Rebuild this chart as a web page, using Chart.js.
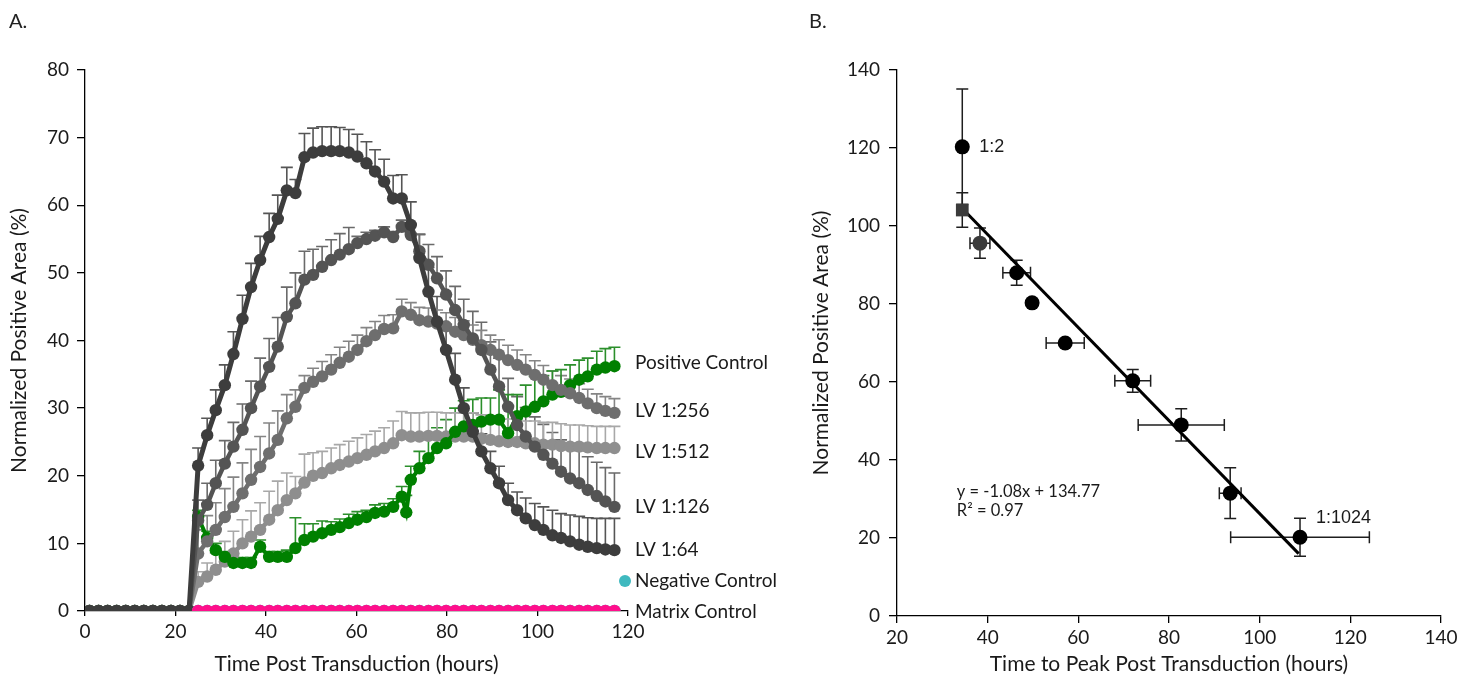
<!DOCTYPE html>
<html><head><meta charset="utf-8">
<script src="https://cdn.jsdelivr.net/npm/chart.js@4.4.1/dist/chart.umd.min.js"></script>
<style>
html,body{margin:0;padding:0;background:#fff;}
#wrap{position:relative;width:1475px;height:680px;overflow:hidden;}
canvas{position:absolute;top:0;}
#cA{left:0}
#cB{left:800px}
.panel{position:absolute;top:8px;font:20px Lato, "Open Sans", sans-serif;color:#222;line-height:24px;}
</style></head>
<body><div id="wrap">
<canvas id="cA" width="800" height="680"></canvas>
<canvas id="cB" width="675" height="680"></canvas>
<div class="panel" style="left:9px">A.</div>
<div class="panel" style="left:809px">B.</div>
</div>
<script>
// ---------- Panel A data ----------
const preTimes = [1,3,5,7,9,11,13,15,17,19,21,23];
const preZeros = [0,0,0,0,0,0,0,0,0,0,0,0];
const postTimes = [25.0,27.0,28.9,30.9,32.8,34.8,36.7,38.7,40.7,42.6,44.6,46.5,48.5,50.4,52.4,54.4,56.3,58.3,60.2,62.2,64.1,66.1,68.1,70.0,72.0,73.9,75.9,77.8,79.8,81.8,83.7,85.7,87.6,89.6,91.5,93.5,95.5,97.4,99.4,101.3,103.3,105.2,107.2,109.2,111.1,113.1,115.0,117.0];
const greenTimes = [25.0,27.0,28.9,30.9,32.8,34.8,36.7,38.7,40.7,42.6,44.6,46.5,48.5,50.4,52.4,54.4,56.3,58.3,60.2,62.2,64.1,66.1,68.1,70.0,71.0,72.0,73.9,75.9,77.8,79.8,81.8,83.7,85.7,87.6,89.6,91.5,93.5,95.5,97.4,99.4,101.3,103.3,105.2,107.2,109.2,111.1,113.1,115.0,117.0];

const lv64 = [21.5,26.0,29.7,33.4,38.0,43.2,47.9,51.9,55.3,58.0,62.2,61.8,67.1,67.8,68.0,68.0,68.0,67.8,67.2,66.2,65.0,63.5,61.0,61.0,57.1,52.2,47.2,42.8,38.6,34.2,30.0,26.5,23.6,21.1,18.9,16.4,14.9,13.7,12.7,12.0,11.2,10.8,10.3,9.8,9.5,9.3,9.1,9.0];
const lv64Err = [2.6,2.5,3.0,3.0,3.3,3.5,3.5,3.5,3.5,3.5,3.4,2.0,3.5,3.6,3.6,3.6,3.5,3.4,3.3,3.2,3.2,3.3,3.4,3.5,3.4,3.5,3.6,3.7,3.8,3.9,3.0,2.8,2.6,2.5,2.5,2.5,2.7,3.0,3.2,3.4,3.7,3.6,3.9,4.2,4.3,4.4,4.6,4.7];

const lv126 = [13.4,15.7,18.9,21.8,24.3,26.8,30.0,33.2,36.1,39.1,43.5,45.5,49.0,49.7,50.9,51.9,52.7,53.5,54.4,55.0,55.5,56.0,55.3,56.8,55.6,53.2,51.2,49.2,46.8,44.5,42.3,40.3,38.6,35.7,33.2,30.2,27.5,25.8,24.3,23.1,21.8,20.6,19.6,18.9,17.9,17.0,16.2,15.4];
const lv126Err = [3.0,3.2,3.4,3.4,3.6,3.8,4.0,4.2,4.2,4.3,4.4,4.5,4.2,3.8,3.0,3.0,3.1,3.2,1.0,1.0,0.8,0.8,0.8,1.0,1.5,2.5,3.0,3.2,3.5,3.5,3.8,4.0,4.1,4.1,4.2,4.2,4.2,4.3,4.4,4.5,4.6,4.7,4.8,4.8,4.9,5.0,5.0,5.0];

const lv256 = [8.5,10.3,12.0,13.9,15.4,17.4,19.4,21.3,23.3,25.3,28.5,30.2,33.0,33.9,34.7,35.7,36.7,37.6,38.6,39.9,40.8,41.7,41.8,44.3,43.8,43.0,42.8,42.5,42.1,41.3,40.8,40.1,39.3,38.6,37.9,37.1,36.4,35.7,34.9,34.2,33.4,32.7,32.2,31.5,30.7,30.0,29.6,29.3];
const lv256Err = [3.5,3.8,4.0,4.2,4.4,4.5,4.5,4.5,4.5,4.3,3.5,2.5,1.8,2.0,2.2,2.2,2.3,2.3,2.2,2.0,2.0,2.0,2.0,1.8,1.8,1.9,2.0,2.0,2.0,2.1,2.1,2.2,2.2,2.2,2.2,2.2,2.2,2.2,2.1,2.1,2.1,2.1,2.1,2.1,2.1,2.1,2.1,2.1];

const lv512 = [4.3,5.1,6.1,7.3,8.5,10.0,11.0,12.0,13.5,14.9,16.4,17.4,19.0,20.0,20.4,21.1,21.6,22.1,22.6,23.1,23.6,24.1,24.8,26.0,25.8,25.8,25.9,25.9,25.8,25.8,25.8,25.8,25.5,25.3,25.1,25.0,25.0,24.8,24.8,24.6,24.6,24.4,24.3,24.3,24.2,24.1,24.1,24.1];
const lv512Err = [1.5,2.0,2.5,3.0,3.3,3.5,3.8,4.0,4.2,4.3,4.0,2.5,4.2,3.4,3.2,3.0,3.0,3.0,3.0,3.0,3.0,3.0,3.3,3.5,3.5,3.5,3.5,3.5,3.5,3.5,3.5,3.5,3.5,3.4,3.4,3.4,3.4,3.3,3.3,3.3,3.3,3.3,3.2,3.2,3.2,3.2,3.2,3.2];

const posCtrl = [13.9,10.8,9.0,8.0,7.1,7.1,7.1,9.5,8.0,8.0,8.0,9.3,10.5,11.0,11.5,12.0,12.4,13.0,13.5,13.9,14.5,14.7,15.4,16.9,14.6,19.4,21.1,22.6,24.1,24.8,26.5,27.3,27.5,28.0,28.3,28.3,26.3,28.8,29.5,30.2,31.0,32.0,32.4,33.4,34.2,34.7,35.7,36.0,36.2];
const posCtrlErr = [1.0,1.0,1.0,0.8,0.8,0.8,0.8,1.0,0.8,0.8,1.0,4.5,2.4,1.9,1.8,1.2,1.2,1.3,1.2,1.0,1.2,1.2,1.2,1.5,2.5,2.0,2.5,2.8,3.0,3.5,3.5,3.8,3.8,3.5,3.2,4.4,5.7,3.2,3.9,4.5,3.8,3.5,3.3,3.0,2.9,2.7,2.7,2.8,2.8];

const negCtrl = [0,0,0,0,0,0,0,0,0,0,0,0,0,0,0,0,0,0,0,0,0,0,0,0,0,0,0,0,0,0,0,0,0,0,0,0,0,0,0,0,0,0,0,0,0,0,0,0];
const matrixCtrl = [0,0,0,0,0,0,0,0,0,0,0,0,0,0,0,0,0,0,0,0,0,0,0,0,0,0,0,0,0,0,0,0,0,0,0,0,0,0,0,0,0,0,0,0,0,0,0,0];

const xTicksA = [0,20,40,60,80,100,120];
const yTicksA = [0,10,20,30,40,50,60,70,80];

// ---------- Panel B data ----------
const peakTime    = [34.4, 34.4, 38.3, 46.4, 49.8, 57.1, 72.0, 82.7, 93.5, 108.9];
const peakArea    = [120.3, 104.1, 95.6, 88.0, 80.3, 70.0, 60.3, 49.0, 31.5, 20.2];
const peakTimeErr = [0, 0, 2.2, 3.05, 0, 4.2, 3.95, 9.5, 2.4, 15.3];
const peakAreaErr = [14.8, 4.4, 3.9, 3.2, 0, 0, 2.9, 4.15, 6.5, 4.85];
const pointNames  = ['1:2','','','','','','','','','1:1024'];
const trendX = [35.0, 108.6];
const trendY = [103.8, 16.0];
const equationText = ['y = -1.08x + 134.77', 'R\u00b2 = 0.97'];

// ---------- helpers ----------
const FONT = 'Lato, "Open Sans", sans-serif';
const TXT = '#1a1a1a';
function pts(times, vals){ return times.map((t,i)=>({x:t, y:vals[i]})); }

const errorBarsA = {
  id: 'errorBarsA',
  beforeDatasetsDraw(chart){
    const ctx = chart.ctx, xs = chart.scales.x, ys = chart.scales.y;
    chart.data.datasets.forEach(ds => {
      if (!ds.errUp) return;
      ctx.save();
      ctx.strokeStyle = ds.errColor; ctx.lineWidth = 1.6;
      ds.data.forEach((p,i) => {
        const e = ds.errUp[i]; if (!e) return;
        const px = xs.getPixelForValue(p.x), py = ys.getPixelForValue(p.y), pt = ys.getPixelForValue(p.y + e);
        ctx.beginPath();
        ctx.moveTo(px, py); ctx.lineTo(px, pt);
        ctx.moveTo(px - 6, pt); ctx.lineTo(px + 6, pt);
        ctx.stroke();
      });
      ctx.restore();
    });
  }
};

const endLabelsA = {
  id: 'endLabelsA',
  afterDatasetsDraw(chart){
    const ctx = chart.ctx, xs = chart.scales.x, ys = chart.scales.y;
    ctx.save();
    ctx.font = '19px ' + FONT; ctx.fillStyle = TXT; ctx.textBaseline = 'middle'; ctx.textAlign = 'left';
    const lx = xs.right + 7;
    chart.data.datasets.forEach(ds => {
      if (!ds.endLabel) return;
      const last = ds.data[ds.data.length - 1];
      let y = ys.getPixelForValue(last.y) + (ds.labelShift || 0);
      if (ds.labelDot) {
        ctx.beginPath(); ctx.fillStyle = ds.borderColor;
        ctx.arc(xs.right - 3, y, 6, 0, Math.PI * 2); ctx.fill();
        ctx.fillStyle = TXT;
      }
      ctx.fillText(ds.endLabel, lx, y);
    });
    ctx.restore();
  }
};

function lineDs(label, times, vals, err, color, errColor, width, order, extra){
  return Object.assign({
    label, data: pts(times, vals), errUp: err, errColor,
    borderColor: color, backgroundColor: color,
    pointBackgroundColor: color, pointBorderColor: color,
    pointRadius: 6.2, pointBorderWidth: 0, pointHoverRadius: 6.2,
    borderWidth: width, tension: 0, fill: false, order
  }, extra || {});
}

const allTimes = preTimes.concat(postTimes);
const greenAllTimes = preTimes.concat(greenTimes);

const dsA = [
  lineDs('Matrix Control', postTimes, matrixCtrl, null, '#ff0f8c', null, 3, 0, {endLabel:'Matrix Control', labelShift: 1}),
  lineDs('Negative Control', postTimes, negCtrl, null, '#3fb9bf', null, 3, 1, {endLabel:'Negative Control', labelShift:-30, labelDot:true}),
  lineDs('LV 1:64', allTimes, preZeros.concat(lv64), preZeros.concat(lv64Err), '#3d3d3d', '#555555', 5, 2, {endLabel:'LV 1:64'}),
  lineDs('LV 1:126', allTimes, preZeros.concat(lv126), preZeros.concat(lv126Err), '#545454', '#6a6a6a', 4.5, 3, {endLabel:'LV 1:126'}),
  lineDs('LV 1:256', allTimes, preZeros.concat(lv256), preZeros.concat(lv256Err), '#6e6e6e', '#858585', 4.5, 4, {endLabel:'LV 1:256', labelShift:-2}),
  lineDs('Positive Control', greenAllTimes, preZeros.concat(posCtrl), preZeros.concat(posCtrlErr), '#008000', '#2b8f2b', 4, 5, {endLabel:'Positive Control', labelShift:-3}),
  lineDs('LV 1:512', allTimes, preZeros.concat(lv512), preZeros.concat(lv512Err), '#8e8e8e', '#a8a8a8', 4.5, 6, {endLabel:'LV 1:512', labelShift:4})
];

function axisCommon(){
  return {
    border: {display:true, color:'#000', width:1.3},
    grid: {display:true, drawOnChartArea:false, drawTicks:true, tickLength:8, color:'#000', lineWidth:1.3},
  };
}

new Chart(document.getElementById('cA'), {
  type: 'line',
  data: { datasets: dsA },
  options: {
    responsive:false, animation:false, devicePixelRatio:1,
    layout: {padding:{top:70, right:172, left:0, bottom:0}},
    plugins: {legend:{display:false}, tooltip:{enabled:false}},
    scales: {
      x: Object.assign(axisCommon(), {
        type:'linear', min:0, max:120,
        afterBuildTicks: s => { s.ticks = xTicksA.map(v => ({value:v})); },
        ticks: {font:{family:FONT, size:19}, color:TXT, padding:4, maxRotation:0, autoSkip:false},
        grid: {display:true, drawOnChartArea:false, drawTicks:true, tickLength:5, color:'#000', lineWidth:1.3},
        title: {display:true, text:'Time Post Transduction (hours)', font:{family:FONT, size:21}, color:TXT, padding:{top:0, bottom:3}},
        afterFit: s => { s.height = 69; }
      }),
      y: Object.assign(axisCommon(), {
        type:'linear', min:0, max:80,
        afterBuildTicks: s => { s.ticks = yTicksA.map(v => ({value:v})); },
        ticks: {font:{family:FONT, size:19}, color:TXT, padding:8, autoSkip:false},
        title: {display:true, text:'Normalized Positive Area (%)', font:{family:FONT, size:21}, color:TXT, padding:{top:7, bottom:0}},
        afterFit: s => { s.width = 85; }
      })
    }
  },
  plugins: [errorBarsA, endLabelsA]
});

// ---------- Panel B ----------
const xTicksB = [20,40,60,80,100,120,140];
const yTicksB = [0,20,40,60,80,100,120,140];

const errorBarsB = {
  id: 'errorBarsB',
  beforeDatasetsDraw(chart){
    const ctx = chart.ctx, xs = chart.scales.x, ys = chart.scales.y;
    const ds = chart.data.datasets.find(d => d.xErr);
    ctx.save(); ctx.strokeStyle = '#1e1e1e'; ctx.lineWidth = 1.5;
    ds.data.forEach((p,i) => {
      const px = xs.getPixelForValue(p.x), py = ys.getPixelForValue(p.y);
      const ex = ds.xErr[i], ey = ds.yErr[i];
      if (ex) {
        const l = xs.getPixelForValue(p.x - ex), r = xs.getPixelForValue(p.x + ex);
        ctx.beginPath(); ctx.moveTo(l, py); ctx.lineTo(r, py);
        ctx.moveTo(l, py - 6); ctx.lineTo(l, py + 6);
        ctx.moveTo(r, py - 6); ctx.lineTo(r, py + 6); ctx.stroke();
      }
      if (ey) {
        const t = ys.getPixelForValue(p.y + ey), b = ys.getPixelForValue(p.y - ey);
        ctx.beginPath(); ctx.moveTo(px, t); ctx.lineTo(px, b);
        ctx.moveTo(px - 6, t); ctx.lineTo(px + 6, t);
        ctx.moveTo(px - 6, b); ctx.lineTo(px + 6, b); ctx.stroke();
      }
    });
    ctx.restore();
  }
};

const labelsB = {
  id: 'labelsB',
  afterDatasetsDraw(chart){
    const ctx = chart.ctx, xs = chart.scales.x, ys = chart.scales.y;
    ctx.save();
    ctx.fillStyle = TXT; ctx.textBaseline = 'middle'; ctx.textAlign = 'left';
    ctx.font = '18px "Liberation Sans", Arial, sans-serif';
    pointNames.forEach((n,i) => {
      if (!n) return;
      const px = xs.getPixelForValue(peakTime[i]), py = ys.getPixelForValue(peakArea[i]);
      if (i === 0) ctx.fillText(n, px + 17, py);
      else ctx.fillText(n, px + 16, py - 19);
    });
    ctx.font = '16.5px ' + FONT;
    const ex = xs.getPixelForValue(33.2), ey = ys.getPixelForValue(31.8);
    ctx.fillText(equationText[0], ex, ey);
    ctx.fillText(equationText[1], ex, ey + 19);
    ctx.restore();
  }
};

new Chart(document.getElementById('cB'), {
  type: 'scatter',
  data: { datasets: [
    { label:'points', data: pts(peakTime, peakArea), xErr: peakTimeErr, yErr: peakAreaErr,
      pointRadius: [7.5, 9, 7.5, 7.5, 7.5, 7.5, 7.5, 7.5, 7.5, 7.5],
      pointStyle: ['circle','rect','circle','circle','circle','circle','circle','circle','circle','circle'],
      pointBackgroundColor: ['#000','#3b3b3b','#3b3b3b','#000','#000','#000','#000','#000','#000','#000'],
      pointBorderWidth: 0, showLine:false, order:0 },
    { label:'trend', data: pts(trendX, trendY), showLine:true, borderColor:'#000', borderWidth:3,
      pointRadius:0, tension:0, order:1 }
  ]},
  options: {
    responsive:false, animation:false, devicePixelRatio:1,
    layout: {padding:{top:70, right:34, left:0, bottom:0}},
    plugins: {legend:{display:false}, tooltip:{enabled:false}},
    scales: {
      x: Object.assign(axisCommon(), {
        type:'linear', min:20, max:140,
        afterBuildTicks: s => { s.ticks = xTicksB.map(v => ({value:v})); },
        ticks: {font:{family:FONT, size:19}, color:TXT, padding:3, maxRotation:0, autoSkip:false},
        grid: {display:true, drawOnChartArea:false, drawTicks:true, tickLength:7, color:'#000', lineWidth:1.3},
        title: {display:true, text:'Time to Peak Post Transduction (hours)', font:{family:FONT, size:21}, color:TXT, padding:{top:0, bottom:3}},
        afterFit: s => { s.height = 64; }
      }),
      y: Object.assign(axisCommon(), {
        type:'linear', min:0, max:140,
        afterBuildTicks: s => { s.ticks = yTicksB.map(v => ({value:v})); },
        ticks: {font:{family:FONT, size:19}, color:TXT, padding:9, autoSkip:false},
        title: {display:true, text:'Normalized Positive Area (%)', font:{family:FONT, size:21}, color:TXT, padding:{top:9, bottom:0}},
        afterFit: s => { s.width = 97; }
      })
    }
  },
  plugins: [errorBarsB, labelsB]
});
</script>
</body></html>
